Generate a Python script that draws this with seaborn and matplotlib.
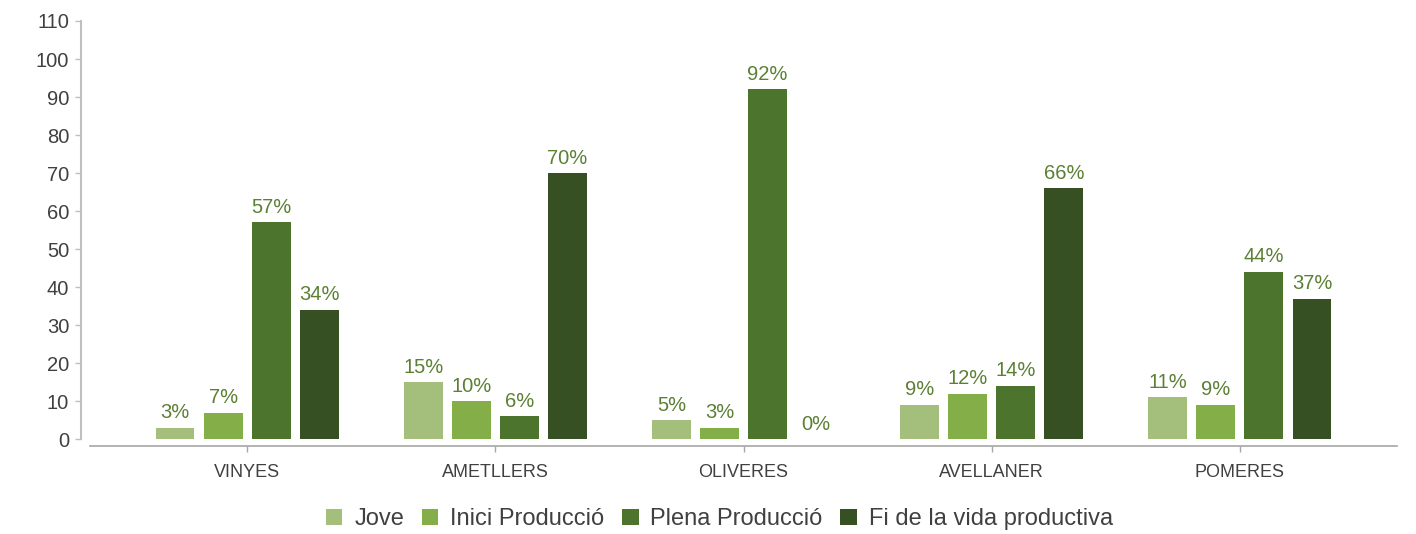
import matplotlib
matplotlib.use("Agg")
import matplotlib.pyplot as plt
import seaborn as sns
import pandas as pd

categories = ["VINYES", "AMETLLERS", "OLIVERES", "AVELLANER", "POMERES"]
series_names = ["Jove", "Inici Producció", "Plena Producció", "Fi de la vida productiva"]
jove = [3, 15, 5, 9, 11]
inici = [7, 10, 3, 12, 9]
plena = [57, 6, 92, 14, 44]
fi = [34, 70, 0, 66, 37]
colors = ["#a3bf7b", "#83ae48", "#4d742c", "#365023"]
y_ticks = list(range(0, 111, 10))

rows = []
for name, vals in zip(series_names, [jove, inici, plena, fi]):
    for c, v in zip(categories, vals):
        rows.append({"cat": c, "series": name, "value": v})
df = pd.DataFrame(rows)

sns.set_theme(style="white")
plt.rcParams["font.family"] = ["Liberation Sans", "DejaVu Sans"]

fig = plt.figure(figsize=(14.16, 5.34), dpi=100)
ax = fig.add_axes([90/1416, 1-446/534, (1397-90)/1416, (446-21)/534])

sns.barplot(data=df, x="cat", y="value", hue="series", order=categories,
            hue_order=series_names, palette=colors, width=0.775, gap=0.19,
            edgecolor="none", linewidth=0, errorbar=None, ax=ax, legend=True, saturation=1)

ax.set_ylim(-1.8, 110)
ax.set_xlim(-0.633, 4.633)
ax.set_yticks(y_ticks)
ax.set_xlabel("")
ax.set_ylabel("")

label_color = "#5b8034"
for cont in ax.containers:
    ax.bar_label(cont, labels=[f"{int(v)}%" for v in cont.datavalues], padding=4,
                 color=label_color, fontsize=14.5)

for s in ["top", "right"]:
    ax.spines[s].set_visible(False)
ax.spines["left"].set_bounds(0, 110)
ax.spines["left"].set_position(("outward", 6.5))
ax.spines["left"].set_color("#bfbfbf")
ax.spines["left"].set_linewidth(1.5)
ax.spines["bottom"].set_color("#a6a6a6")
ax.spines["bottom"].set_linewidth(1.2)

ax.tick_params(axis="y", which="major", left=True, length=4, width=1, color="#bfbfbf",
               labelsize=14.5, labelcolor="#404040", pad=4.5)
ax.tick_params(axis="x", which="major", bottom=True, length=4, width=1, color="#a6a6a6",
               labelsize=13, labelcolor="#404040", pad=9)

handles, labels = ax.get_legend_handles_labels()
ax.get_legend().remove()
fig.legend(handles, labels, loc="center", bbox_to_anchor=(0.508, 0.028), ncol=4,
           frameon=False, fontsize=17, handlelength=0.7, handleheight=0.7,
           handletextpad=0.5, columnspacing=0.75, labelcolor="#404040")

fig.savefig("out.png", dpi=100)
